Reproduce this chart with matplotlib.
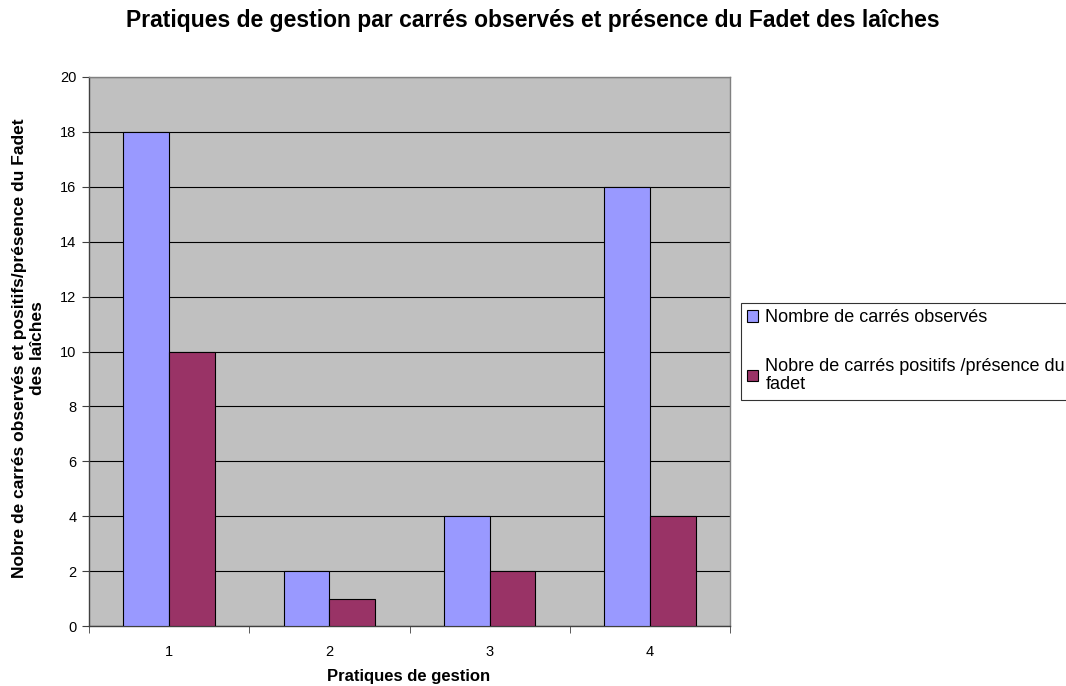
import matplotlib
matplotlib.use("Agg")
import matplotlib.pyplot as plt
import numpy as np
from matplotlib.patches import Patch

categories = ["1", "2", "3", "4"]
observes = [18, 2, 4, 16]
positifs = [10, 1, 2, 4]
series_names = ["Nombre de carrés observés",
                "Nobre de carrés positifs /présence du\nfadet"]
colors = ["#9999FF", "#993366"]

plt.rcParams['font.family'] = ['Liberation Sans', 'DejaVu Sans']

W, H = 1066, 686
fig = plt.figure(figsize=(W/100, H/100), dpi=100)
ax = fig.add_axes([89/W, 60/H, 641/W, 549/H])
ax.set_facecolor("#C0C0C0")

x = np.arange(len(categories))
w = 0.2857
ax.bar(x - w/2, observes, width=w, color=colors[0], edgecolor="black", linewidth=0.8, zorder=3)
ax.bar(x + w/2, positifs, width=w, color=colors[1], edgecolor="black", linewidth=0.8, zorder=3)

ax.set_xlim(-0.5, len(categories) - 0.5)
ax.set_ylim(0, 20)
ax.set_yticks(np.arange(0, 21, 2))
ax.yaxis.grid(True, color="black", linewidth=0.8, zorder=1)
ax.set_axisbelow(True)

ax.set_xticks(x)
ax.set_xticklabels(categories, fontsize=10.5)
ax.set_xticks(np.arange(-0.5, len(categories), 1.0), minor=True)
ax.tick_params(axis='x', which='major', length=0, pad=14)
ax.tick_params(axis='x', which='minor', length=5, direction='out', color='#404040')
ax.tick_params(axis='y', length=5, direction='out', labelsize=10.5, color='#404040', pad=4)

for s in ["top", "right"]:
    ax.spines[s].set_color("#808080")
    ax.spines[s].set_linewidth(1.0)
for s in ["left", "bottom"]:
    ax.spines[s].set_color("#404040")
    ax.spines[s].set_linewidth(1.0)

fig.text(409/W, 1 - 676/H, "Pratiques de gestion", ha='center', va='center',
         fontsize=12, fontweight='bold')
fig.text(29/W, 1 - 348/H,
         "Nobre de carrés observés et positifs/présence du Fadet\ndes laîches",
         ha='center', va='center', rotation=90, multialignment='center',
         fontsize=12.5, fontweight='bold', linespacing=1.25)

fig.text(533/W, 1 - 21/H,
         "Pratiques de gestion par carrés observés et présence du Fadet des laîches",
         ha='center', va='center', fontsize=16.5, fontweight='bold')

handles = [Patch(facecolor=colors[0], edgecolor='black', linewidth=0.8),
           Patch(facecolor=colors[1], edgecolor='black', linewidth=0.8)]
leg = fig.legend(handles, series_names, loc='upper left',
                 bbox_to_anchor=(741/W, 1 - 303/H), bbox_transform=fig.transFigure,
                 frameon=True, fancybox=False, fontsize=13, handlelength=0.6,
                 handleheight=0.6, handletextpad=0.4, labelspacing=1.75,
                 borderpad=0.35, borderaxespad=0, alignment='left')
leg.get_frame().set_edgecolor('black')
leg.get_frame().set_linewidth(0.8)
for t in leg.get_texts():
    t.set_linespacing(1.1)

fig.savefig("out.png", dpi=100)
